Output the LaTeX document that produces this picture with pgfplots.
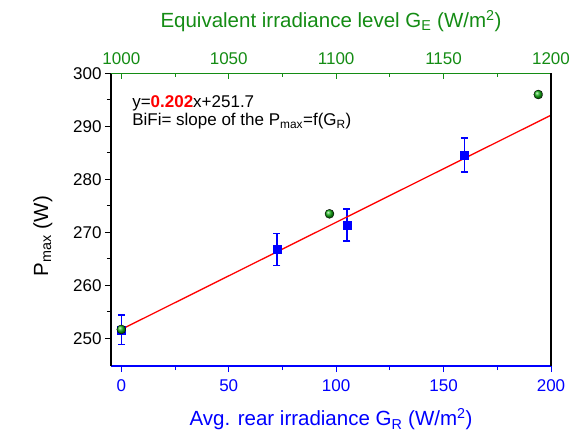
\documentclass[border=0pt]{standalone}
\usepackage{fontspec}
\setmainfont{Liberation Sans}
\usepackage{pgfplots}
\pgfplotsset{compat=1.18}
\definecolor{gblue}{RGB}{0,0,255}
\definecolor{ggreen}{RGB}{20,140,20}
\definecolor{gball}{RGB}{20,175,20}
\definecolor{gred}{RGB}{255,0,0}
\begin{document}
\begin{tikzpicture}
\begin{axis}[
 at={(0,0)}, anchor=south west,
 scale only axis, width=440pt, height=292.7pt,
 xmin=-4.8, xmax=200, ymin=244.8, ymax=300,
 axis x line*=bottom, axis y line*=left,
 x axis line style={gblue, -, line width=1.3pt},
 y axis line style={black, -, line width=1.3pt},
 xtick={0,50,...,200}, ytick={250,260,...,300},
 minor x tick num=1, minor y tick num=1,
 tick align=outside,
 major tick length=6pt, minor tick length=4pt,
 x tick style={gblue, line width=1pt},
 y tick style={black, line width=1pt},
 xticklabel style={font={\fontsize{17}{17}\selectfont}, text=gblue, yshift=-4pt},
 yticklabel style={font={\fontsize{17}{17}\selectfont}, text=black},
 /pgf/number format/assume math mode=true,
 /pgf/number format/1000 sep={},
 xlabel={Avg. rear irradiance G\textsubscript{R} (W/m\textsuperscript{2})},
 xlabel style={font={\fontsize{20.5}{20.5}\selectfont}, text=gblue, yshift=-10pt},
 ylabel={P\textsubscript{max} (W)},
 ylabel style={font={\fontsize{20.5}{20.5}\selectfont}, text=black,
   at={(axis description cs:-0.155,0.444)}, anchor=center},
]
\addplot[only marks, mark=square*, mark size=4pt, color=gblue,
  error bars/.cd, y dir=both, y explicit,
  error bar style={gblue, line width=1.3pt},
  error mark options={gblue, rotate=90, mark size=3.5pt, line width=1.3pt}]
  coordinates {(0,251.6) +- (0,2.8) (72.4,266.8) +- (0,3) (105,271.4) +- (0,3) (159.7,284.6) +- (0,3.2)};
\addplot[gred, line width=1.3pt] coordinates {(0,251.7) (200,292.1)};
\addplot[only marks, mark=ball, mark size=4.5pt, mark options={ball color=gball}]
  coordinates {(0,251.7) (96.9,273.5) (194.1,296.0)};
\node[anchor=base west, font={\fontsize{17}{17}\selectfont}, inner sep=0pt]
  at (axis cs:5.0,293.6) {y=\textcolor{gred}{\textbf{0.202}}x+251.7};
\node[anchor=base west, font={\fontsize{17}{17}\selectfont}, inner sep=0pt]
  at (axis cs:5.0,290.1) {BiFi= slope of the P\textsubscript{max}=f(G\textsubscript{R})};
\end{axis}
\begin{axis}[
 at={(0,0)}, anchor=south west,
 scale only axis, width=440pt, height=292.7pt,
 xmin=995.2, xmax=1200, ymin=0, ymax=1,
 axis x line*=top, axis y line*=right,
 x axis line style={ggreen, -, line width=1.3pt},
 y axis line style={black, -, line width=1.3pt},
 ytick=\empty,
 xtick={1000,1050,...,1200}, minor x tick num=1,
 tick align=inside,
 major tick length=6pt, minor tick length=4pt,
 x tick style={ggreen, line width=1pt},
 xticklabel style={font={\fontsize{17}{17}\selectfont}, text=ggreen, yshift=5pt},
 /pgf/number format/assume math mode=true,
 /pgf/number format/1000 sep={},
 xlabel={Equivalent irradiance level G\textsubscript{E} (W/m\textsuperscript{2})},
 xlabel style={font={\fontsize{20.5}{20.5}\selectfont}, text=ggreen, yshift=14pt},
]
\end{axis}
\pgfresetboundingbox
\path[use as bounding box] (-111pt,-66pt) rectangle (460pt,366pt);
\end{tikzpicture}
\end{document}
